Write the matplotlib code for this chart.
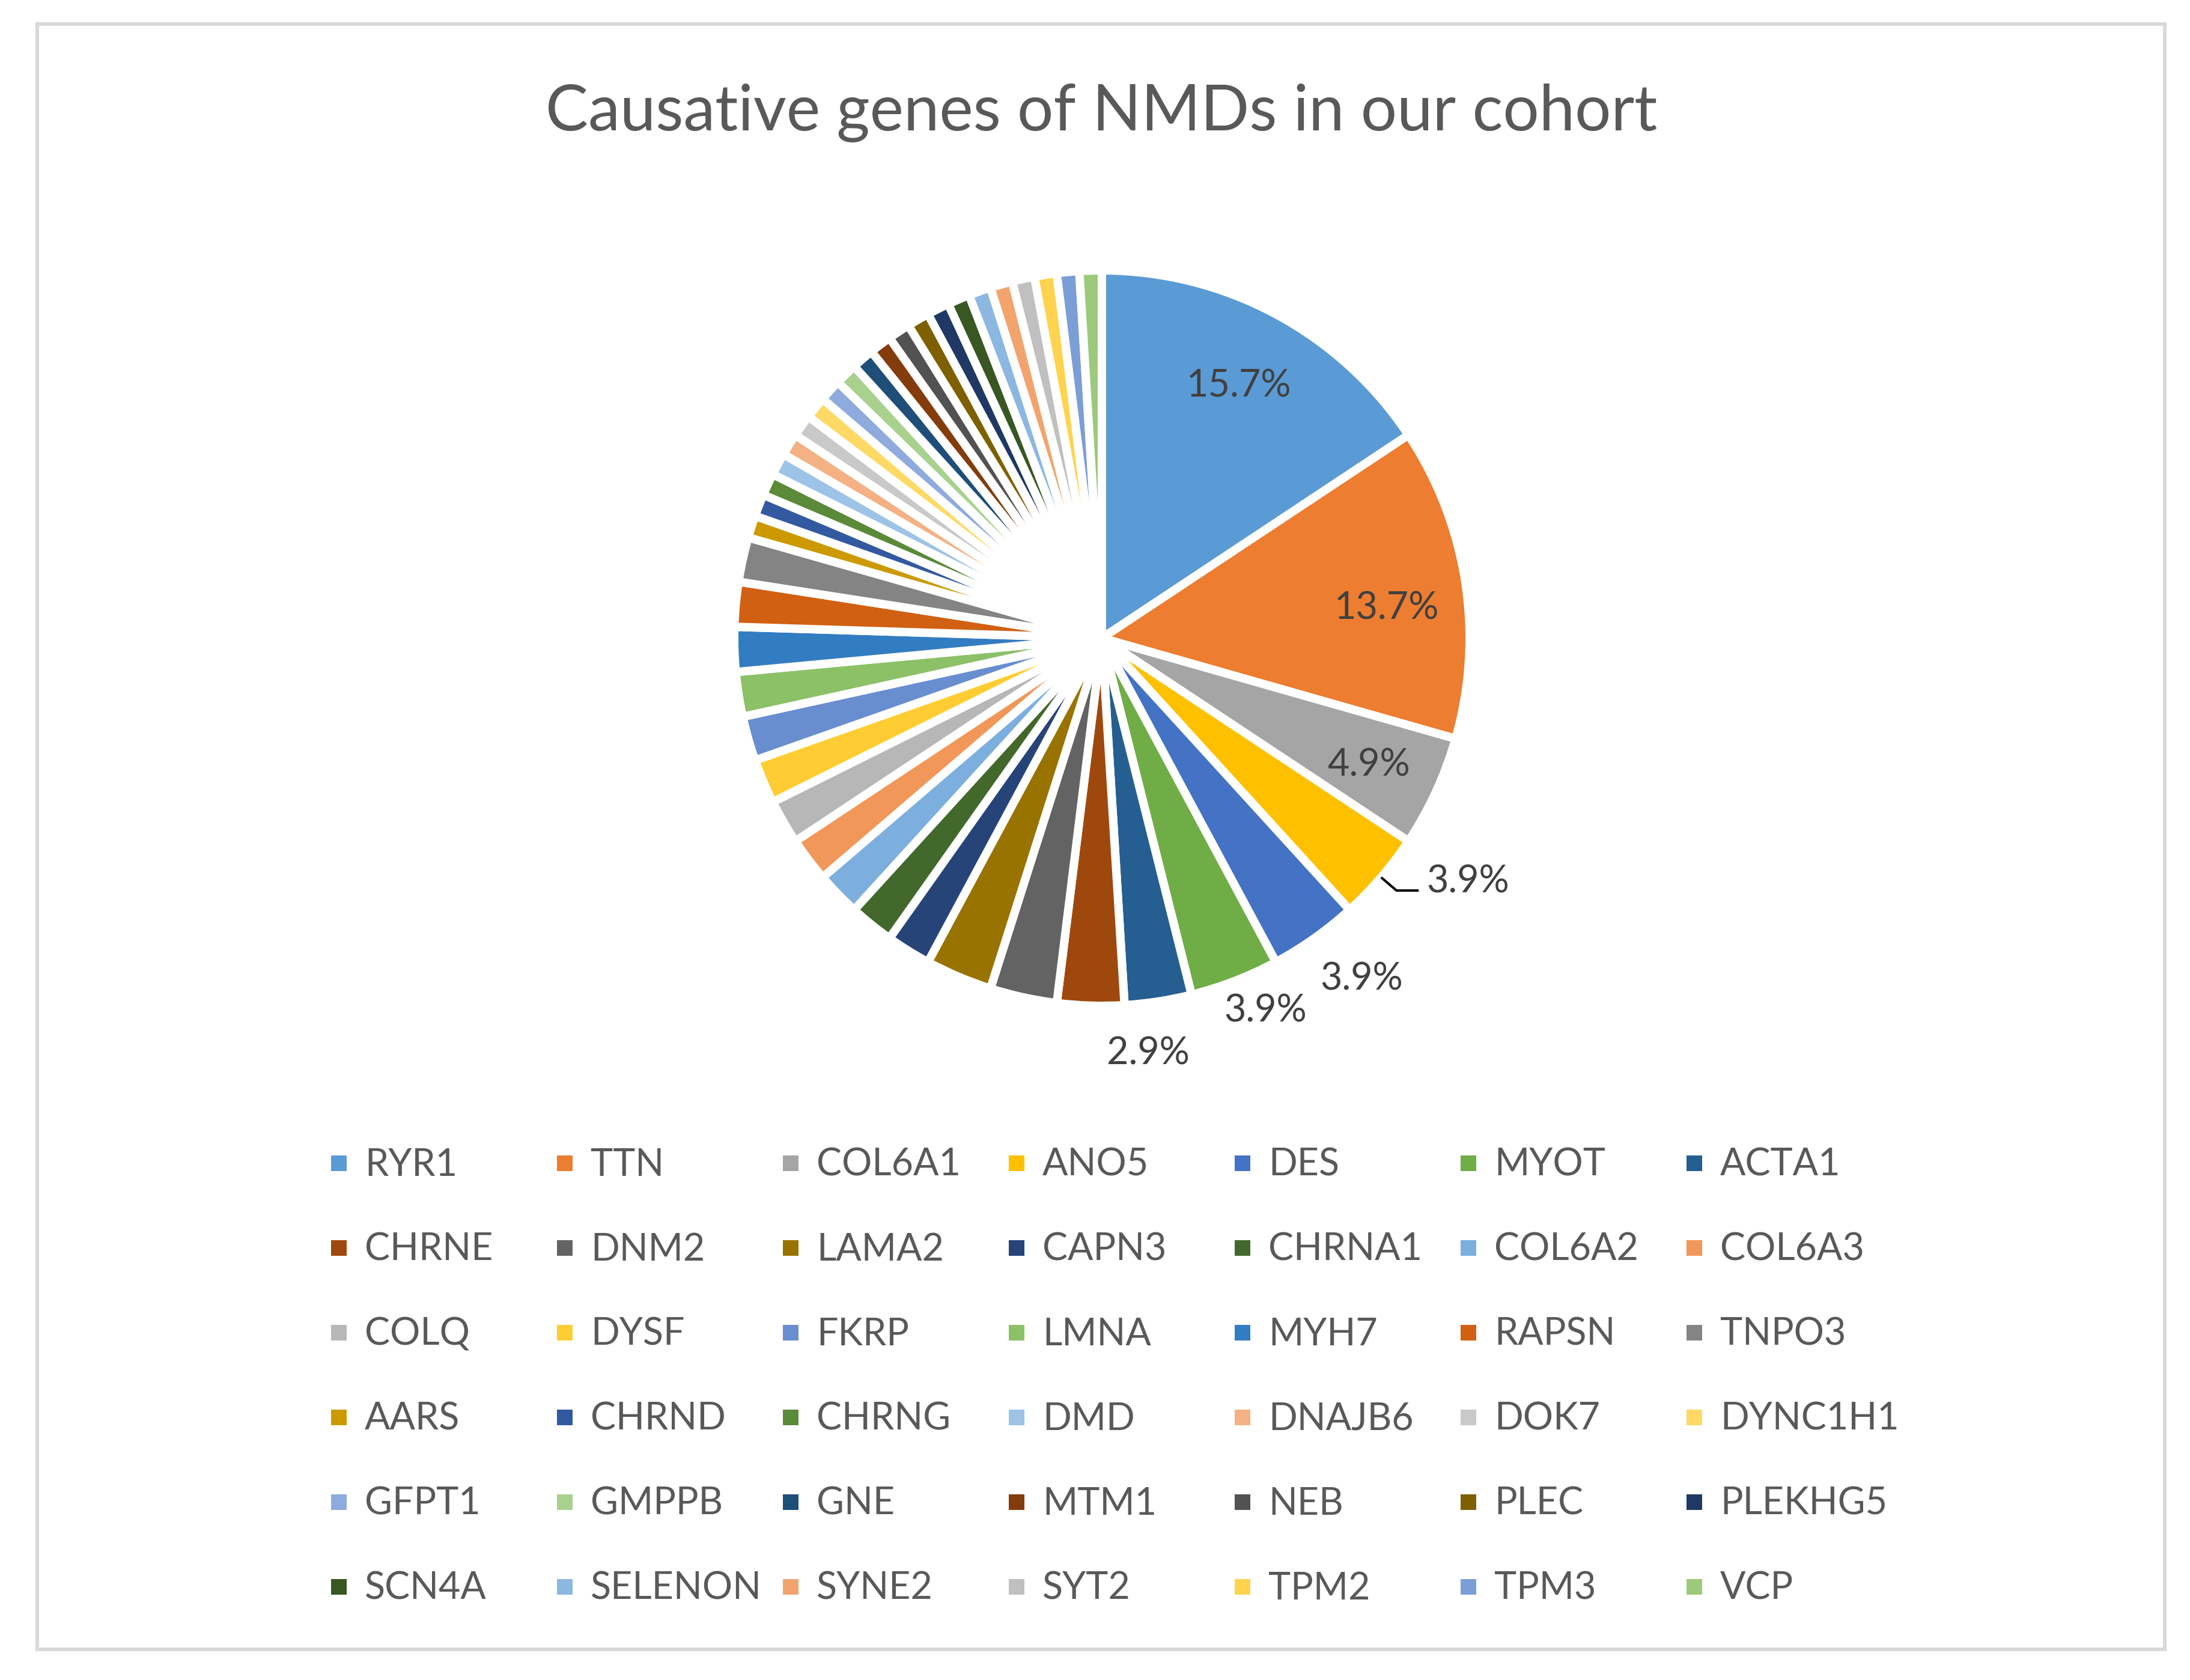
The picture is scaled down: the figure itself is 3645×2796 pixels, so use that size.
import matplotlib
matplotlib.use("Agg")
import matplotlib.pyplot as plt
from matplotlib.patches import Rectangle
import numpy as np

# ---------------- data ----------------
genes = ["RYR1", "TTN", "COL6A1", "ANO5", "DES", "MYOT", "ACTA1",
         "CHRNE", "DNM2", "LAMA2", "CAPN3", "CHRNA1", "COL6A2", "COL6A3",
         "COLQ", "DYSF", "FKRP", "LMNA", "MYH7", "RAPSN", "TNPO3",
         "AARS", "CHRND", "CHRNG", "DMD", "DNAJB6", "DOK7", "DYNC1H1",
         "GFPT1", "GMPPB", "GNE", "MTM1", "NEB", "PLEC", "PLEKHG5",
         "SCN4A", "SELENON", "SYNE2", "SYT2", "TPM2", "TPM3", "VCP"]
counts = [16, 14, 5, 4, 4, 4, 3,
          3, 3, 3, 2, 2, 2, 2,
          2, 2, 2, 2, 2, 2, 2,
          1, 1, 1, 1, 1, 1, 1,
          1, 1, 1, 1, 1, 1, 1,
          1, 1, 1, 1, 1, 1, 1]
colors = ["#5B9BD5", "#ED7D31", "#A5A5A5", "#FFC000", "#4472C4", "#70AD47", "#255E91",
          "#9E480E", "#636363", "#997300", "#264478", "#43682B", "#7CAFDD", "#F1975A",
          "#B7B7B7", "#FFCD33", "#698ED0", "#8CC168", "#327DC2", "#D26012", "#848484",
          "#CC9A00", "#335AA1", "#5B8A39", "#9DC3E6", "#F4B183", "#C9C9C9", "#FFD966",
          "#8FAADC", "#A9D18E", "#1F4E79", "#843C0C", "#525252", "#7F6000", "#203864",
          "#385723", "#8CB7E1", "#F2A46F", "#C0C0C0", "#FFD34D", "#7C9ED6", "#9CC97B"]
labelled = ["RYR1", "TTN", "COL6A1", "ANO5", "DES", "MYOT", "ACTA1"]
title = "Causative genes of NMDs in our cohort"

# ---------------- layout ----------------
W, H, DPI = 3645, 2796, 100
plt.rcParams["font.family"] = ["Lato", "DejaVu Sans"]
CAP = 0.7165  # Lato cap height / em

fig = plt.figure(figsize=(W / DPI, H / DPI), dpi=DPI)
fig.patch.set_facecolor("white")
ax = fig.add_axes([0, 0, 1, 1])
renderer = fig.canvas.get_renderer()


def fit_size(s, target_px):
    t = fig.text(0, 0, s, fontsize=100)
    w = t.get_window_extent(renderer=renderer).width
    t.remove()
    return 100.0 * target_px / w


def cap_px(size_pt):
    return size_pt * DPI / 72.0 * CAP


title_size = fit_size(title, 1852)
leg_size = fit_size("SELENON", 277) * 1.03
lab_size = leg_size

# chart frame
ax.add_patch(Rectangle((62, H - 2745), 3603 - 62, 2745 - 40, fill=False,
                       edgecolor="#D9D9D9", linewidth=6 * 72 / DPI, zorder=0))

# pie
CX, CY, R = 1834, H - 1062, 612
wedges, _ = ax.pie(counts, colors=colors, startangle=90, counterclock=False,
                   radius=R, center=(CX, CY),
                   wedgeprops=dict(edgecolor="white", linewidth=14 * 72 / DPI,
                                   joinstyle="round"))
ax.set_xlim(0, W)
ax.set_ylim(0, H)
ax.set_aspect("equal")
ax.axis("off")

total = sum(counts)
label_r = {"RYR1": 0.787, "TTN": 0.78, "COL6A1": 0.80, "DES": 1.16, "MYOT": 1.10, "ACTA1": 1.13}
label_dang = {"RYR1": 0.0, "TTN": 2.3, "COL6A1": 0.3, "DES": -2.2, "MYOT": -2.7, "ACTA1": 2.4}
lab_cap = cap_px(lab_size)
for g, c, w in zip(genes, counts, wedges):
    if g not in labelled:
        continue
    txt = f"{100.0 * c / total:.1f}%"
    mid = 0.5 * (w.theta1 + w.theta2)
    if g in label_r:
        a = np.deg2rad(mid - label_dang[g])
        x = CX + label_r[g] * R * np.cos(a)
        y = CY + label_r[g] * R * np.sin(a)
        ax.text(x, y - lab_cap / 2, txt, ha="center", va="baseline",
                fontsize=lab_size, color="#404040")
    else:
        a = np.deg2rad(mid)
        x0, y0 = CX + 1.0 * R * np.cos(a), CY + 1.0 * R * np.sin(a)
        x1, y1 = CX + 1.055 * R * np.cos(a), CY + 1.055 * R * np.sin(a)
        ax.plot([x0, x1, x1 + 37], [y0, y1, y1], color="black",
                linewidth=4 * 72 / DPI, solid_capstyle="butt", zorder=5)
        ax.text(x1 + 50, y1 - 3, txt, ha="left", va="baseline",
                fontsize=lab_size, color="#404040")

# title
ax.text(1833, H - 217, title, ha="center", va="baseline",
        fontsize=title_size, color="#595959")

# legend (row-major, uniform columns like Excel)
leg_cap = cap_px(leg_size)
NCOL = 7
for k, (g, c) in enumerate(zip(genes, colors)):
    row, col = divmod(k, NCOL)
    x = 551 + 376 * col
    yc = 1934 + 141 * row
    ax.add_patch(Rectangle((x, H - (yc + 2) - 13), 26, 26, facecolor=c,
                           edgecolor="none"))
    ax.text(x + 56, H - (yc + leg_cap / 2), g, ha="left", va="baseline",
            fontsize=leg_size, color="#595959")

fig.savefig("out.png", dpi=DPI, facecolor="white")
